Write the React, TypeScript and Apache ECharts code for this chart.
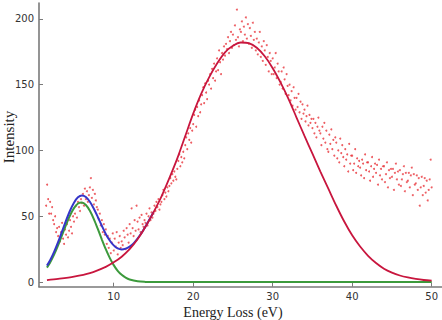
import React, { useEffect, useRef } from "react";
import * as echarts from "echarts";

// Measured spectrum: channels start at 1.5 eV, spaced 0.125 eV apart.
const scatterStart = 1.5;
const scatterStep = 0.125;
const scatterValues: number[] = [
  58, 74, 63, 52,
  61, 52, 57, 47, 44, 50, 38, 41,
  35, 42, 31, 38, 45, 33, 29, 40,
  36, 44, 34, 39, 47, 42, 37, 50,
  46, 52, 58, 49, 61, 57, 54, 63,
  60, 67, 58, 71, 63, 69, 61, 66,
  72, 79, 64, 70, 59, 67, 62, 57,
  55, 48, 52, 43, 47, 38, 44, 36,
  40, 29, 35, 26, 33, 22, 30, 37,
  24, 33, 27, 38, 21, 30, 35, 26,
  31, 28, 39, 34, 25, 41, 36, 30,
  44, 37, 56, 41, 35, 47, 39, 58,
  46, 40, 49, 38, 51, 44, 42, 47,
  45, 52, 43, 50, 56, 47, 53, 49,
  52, 58, 54, 61, 57, 63, 55, 59,
  61, 66, 70, 63, 68, 65, 72, 69,
  73, 79, 75, 82, 77, 84, 80, 78,
  86, 92, 97, 88, 95, 91, 99, 94,
  104, 110, 101, 113, 108, 117, 106, 115,
  120, 127, 131, 118, 133, 126, 138, 129,
  135, 142, 148, 136, 151, 144, 139, 153,
  150, 158, 147, 162, 155, 166, 153, 160,
  170, 161, 176, 167, 158, 174, 169, 179,
  172, 181, 177, 186, 174, 183, 190, 178,
  188, 180, 195, 184, 207, 186, 179, 192,
  190, 198, 183, 194, 188, 201, 185, 196,
  181, 193, 187, 178, 197, 184, 190, 176,
  185, 173, 182, 190, 171, 179, 168, 183,
  176, 165, 180, 171, 160, 174, 168, 158,
  170, 158, 163, 174, 155, 166, 160, 150,
  152, 160, 147, 163, 154, 143, 158, 149,
  142, 150, 138, 145, 134, 148, 140, 131,
  140, 133, 143, 129, 137, 124, 135, 128,
  131, 122, 126, 134, 119, 127, 121, 124,
  117, 124, 113, 121, 110, 118, 125, 115,
  113, 104, 118, 109, 121, 106, 115, 101,
  99, 112, 105, 116, 101, 108, 96, 110,
  106, 94, 100, 91, 109, 98, 104, 95,
  88, 101, 93, 97, 84, 105, 90, 96,
  96, 85, 90, 101, 83, 94, 88, 92,
  87, 81, 93, 90, 79, 97, 85, 91,
  91, 84, 77, 88, 95, 80, 86, 90,
  83, 89, 74, 93, 81, 86, 78, 88,
  88, 76, 82, 91, 72, 85, 79, 86,
  80, 86, 70, 83, 90, 78, 84, 74,
  85, 73, 78, 82, 88, 69, 83, 76,
  77, 83, 72, 81, 87, 66, 82, 74,
  75, 81, 70, 79, 58, 72, 80, 66,
  73, 79, 68, 77, 62, 70, 78, 93,
  72,
];

// Fitted plasmon peak (crimson)
const plasmonX = [1.6, 3, 5, 7, 9, 10, 11, 12, 13, 14, 15, 16, 17, 18, 19, 20, 21, 22, 23, 24, 25, 26, 27, 28, 29, 30, 31, 32, 33, 34, 35, 36, 37, 38, 39, 40, 41, 42, 43, 44, 45, 46, 47, 48, 49, 50];
const plasmonY = [1.5, 2.4, 4.1, 6.8, 11.6, 15, 19.3, 25, 32.5, 42, 53, 65, 79, 94, 111, 128, 143, 155.5, 166, 174.5, 179.5, 182, 181.5, 178, 171.5, 162.5, 151.5, 139, 125, 111, 97.5, 84, 71, 58, 46, 35.5, 27, 20, 14.5, 10.2, 7.2, 5, 3.5, 2.4, 1.6, 1.1];

// Fitted low-loss peak (green)
const lowLossX = [1.6, 2, 2.5, 3, 3.5, 4, 4.5, 5, 5.5, 6, 6.5, 7, 7.5, 8, 8.5, 9, 9.5, 10, 10.5, 11, 11.5, 12, 13, 14, 15, 20, 30, 40, 50];
const lowLossY = [11, 14.9, 20.9, 27.9, 35.7, 43.5, 50.6, 56.2, 59.7, 60.5, 58.6, 54.2, 47.9, 40.4, 32.5, 25, 18.4, 12.9, 8.6, 5.5, 3.4, 2, 0.6, 0.15, 0, 0, 0, 0, 0];

// Sum of both peaks (blue), visible where the two overlap
const sumX = [1.6, 2, 2.5, 3, 3.5, 4, 4.5, 5, 5.5, 6, 6.5, 7, 7.5, 8, 8.5, 9, 9.5, 10, 10.5, 11, 11.5, 12, 12.5, 13, 13.5, 14, 15];
const sumY = [12.5, 16.6, 22.9, 30.3, 38.5, 46.7, 54.2, 60.3, 64.4, 65.8, 64.6, 61, 55.7, 49.4, 42.8, 36.6, 31.6, 27.9, 25.6, 24.8, 25.4, 27, 29.4, 33.1, 37.3, 42.2, 53];

const xTicks = [10, 20, 30, 40, 50];
const yTicks = [0, 50, 100, 150, 200];

const pairs = (xs: number[], ys: number[]) => xs.map((x, i) => [x, ys[i]]);

export default function App() {
  const ref = useRef<HTMLDivElement>(null);

  useEffect(() => {
    if (!ref.current) return;
    const chart = echarts.init(ref.current, undefined, { renderer: "svg" });
    const scatter = scatterValues.map((v, i) => [scatterStart + i * scatterStep, v]);
    const axisColor = "#7a7a7a";
    const labelStyle = { color: "#333", fontSize: 10, fontFamily: "DejaVu Sans" };

    chart.setOption({
      animation: false,
      backgroundColor: "#fff",
      grid: { left: 39, right: 0, top: 3, bottom: 33.3 },
      xAxis: {
        type: "value",
        min: 0.6,
        max: 51.3,
        splitLine: { show: false },
        axisLine: { show: true, onZero: false, lineStyle: { color: axisColor, width: 1.6 } },
        axisTick: { show: true, inside: true, length: 4, customValues: xTicks, lineStyle: { color: axisColor } },
        axisLabel: { ...labelStyle, margin: 5, customValues: xTicks },
      },
      yAxis: {
        type: "value",
        min: -3.5,
        max: 212,
        splitLine: { show: false },
        axisLine: { show: true, onZero: false, lineStyle: { color: axisColor, width: 1.6 } },
        axisTick: { show: true, inside: true, length: 4, customValues: yTicks, lineStyle: { color: axisColor } },
        axisLabel: { ...labelStyle, margin: 5, customValues: yTicks },
      },
      graphic: [
        {
          type: "text",
          x: 233,
          y: 312,
          style: {
            text: "Energy Loss (eV)",
            font: '14px "Liberation Serif"',
            fill: "#222",
            textAlign: "center",
            textVerticalAlign: "middle",
          },
        },
        {
          type: "text",
          x: 9,
          y: 137,
          rotation: Math.PI / 2,
          style: {
            text: "Intensity",
            font: '15px "Liberation Serif"',
            fill: "#222",
            textAlign: "center",
            textVerticalAlign: "middle",
          },
        },
      ],
      series: [
        {
          type: "scatter",
          data: scatter,
          symbolSize: 2,
          itemStyle: { color: "#e8363c", opacity: 0.8 },
          z: 1,
        },
        {
          type: "line",
          data: pairs(lowLossX, lowLossY),
          smooth: 0.3,
          showSymbol: false,
          lineStyle: { color: "#3c9a3c", width: 2 },
          z: 2,
        },
        {
          type: "line",
          data: pairs(sumX, sumY),
          smooth: 0.3,
          showSymbol: false,
          lineStyle: { color: "#3535c8", width: 2 },
          z: 3,
        },
        {
          type: "line",
          data: pairs(plasmonX, plasmonY),
          smooth: 0.3,
          showSymbol: false,
          lineStyle: { color: "#c8163e", width: 1.8 },
          z: 4,
        },
      ],
    });
    return () => chart.dispose();
  }, []);

  return (
    <div
      ref={ref}
      style={{ position: "fixed", left: 0, top: 0, width: 442, height: 320 }}
    />
  );
}
